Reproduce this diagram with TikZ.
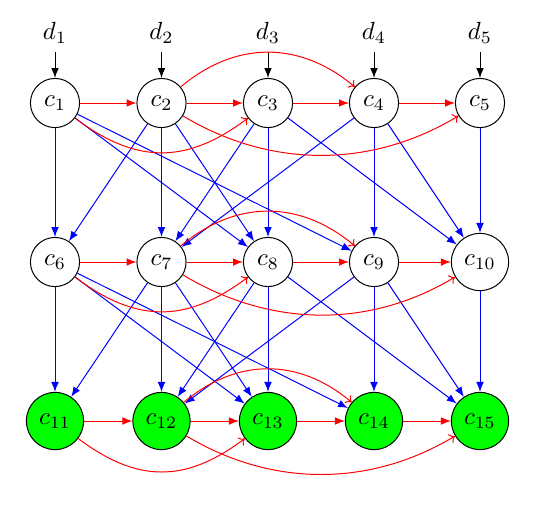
\documentclass[tikz,border=0pt]{standalone}
\usetikzlibrary{arrows.meta}
\begin{document}
\begin{tikzpicture}[x=0.4032pt,y=-0.4032pt,
  cnode/.style={circle,draw,thin},
  gnode/.style={circle,draw,thin,fill=green},
  tipf/.tip={Latex[length=4pt,width=3.1pt]},
  redarr/.style={red,-tipf},
  bluearr/.style={blue,-tipf},
  blackarr/.style={black,-tipf},
  redcurve/.style={red,-{To[length=2.2pt,width=4pt]}}]
\useasboundingbox (0,0) rectangle (542,506);
% nodes
\foreach \i/\x in {1/55,2/161.5,3/268,4/374,5/480}{
  \node (d\i) at (\x,33) {$d_{\i}$};
}
\node[cnode] (c1) at (55,103) {$c_{1}$};
\node[cnode] (c2) at (161.5,103) {$c_{2}$};
\node[cnode] (c3) at (268,103) {$c_{3}$};
\node[cnode] (c4) at (374,103) {$c_{4}$};
\node[cnode] (c5) at (480,103) {$c_{5}$};
\node[cnode] (c6) at (55,262) {$c_{6}$};
\node[cnode] (c7) at (161.5,262) {$c_{7}$};
\node[cnode] (c8) at (268,262) {$c_{8}$};
\node[cnode] (c9) at (374,262) {$c_{9}$};
\node[cnode] (c10) at (480,262) {$c_{10}$};
\node[gnode] (c11) at (55,421) {$c_{11}$};
\node[gnode] (c12) at (161.5,421) {$c_{12}$};
\node[gnode] (c13) at (268,421) {$c_{13}$};
\node[gnode] (c14) at (374,421) {$c_{14}$};
\node[gnode] (c15) at (480,421) {$c_{15}$};
% d arrows
\foreach \i in {1,...,5}{ \draw[blackarr] (d\i) -- (c\i); }
% blue edges
\foreach \a/\b in {1/6,1/8,1/9,2/6,2/7,2/8,3/7,3/8,3/10,4/7,4/9,4/10,5/10,
                   6/11,6/13,6/14,7/11,7/12,7/13,8/12,8/13,8/15,9/12,9/14,9/15,10/15}{
  \draw[bluearr] (c\a) -- (c\b);
}
% red horizontal edges
\foreach \a/\b in {1/2,2/3,3/4,4/5,6/7,7/8,8/9,9/10,11/12,12/13,13/14,14/15}{
  \draw[redarr] (c\a) -- (c\b);
}
% red curves
\foreach \a/\b/\c/\d in {1/3/2/4,6/8/7/9,11/13/12/14}{
  \draw[redcurve] (c\a) to[out=-37,in=-143,looseness=1.14] (c\b);
  \draw[redcurve] (c\c) to[out=40,in=140,looseness=1.06] (c\d);
}
\foreach \a/\b in {2/5,7/10,12/15}{
  \draw[redcurve] (c\a) to[out=-31,in=-149,looseness=0.95] (c\b);
}
\end{tikzpicture}
\end{document}
